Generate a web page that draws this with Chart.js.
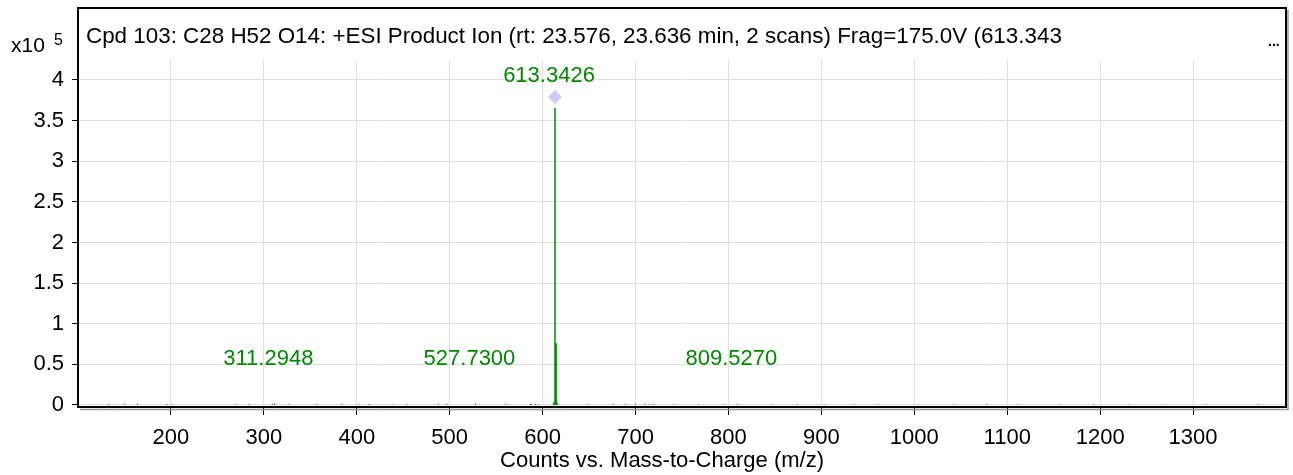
<!DOCTYPE html>
<html>
<head>
<meta charset="utf-8">
<script src="https://cdn.jsdelivr.net/npm/chart.js@4/dist/chart.umd.min.js"></script>
<style>
  body { margin: 0; background: #fff; }
  #wrap { width: 1293px; height: 475px; }
</style>
</head>
<body>
<div id="wrap"><canvas id="spec"></canvas></div>
<script>
// spectrum values, intensities in units of 10^5 counts
const peakMz = [613.3426, 614.55];
const peakHeight = [3.655, 0.76];

const noiseMz = [133, 150, 164, 196, 201, 270, 284, 309, 311.2948, 327, 357, 384, 402, 413, 438, 454, 488, 497,
                 527.73, 560, 563, 587, 588, 592, 596, 611.5, 612.4, 615.4, 616.2, 649, 676, 689, 700, 710, 715, 719,
                 741, 768, 795, 809.527, 846, 874, 903, 935, 961, 1004, 1043, 1078, 1112, 1156, 1193, 1231, 1270, 1314, 1370];
const noiseHeight = [0.012, 0.01, 0.015, 0.012, 0.008, 0.01, 0.012, 0.014, 0.02, 0.01, 0.012, 0.014, 0.01, 0.012, 0.01, 0.012, 0.01, 0.014,
                     0.018, 0.012, 0.01, 0.014, 0.012, 0.016, 0.01, 0.03, 0.04, 0.035, 0.02, 0.01, 0.014, 0.012, 0.012, 0.014, 0.01, 0.012,
                     0.008, 0.01, 0.008, 0.012, 0.008, 0.01, 0.008, 0.008, 0.01, 0.008, 0.008, 0.01, 0.008, 0.008, 0.01, 0.008, 0.008, 0.008, 0.012];

const precursorMz = [613.3426];
const precursorLevel = [3.79];

const labelMz = [311.2948, 527.7300, 613.3426, 809.5270];
const labelText = ['311.2948', '527.7300', '613.3426', '809.5270'];
const labelLevel = [0.566, 0.566, 4.05, 0.566];

const xTicks = [200, 300, 400, 500, 600, 700, 800, 900, 1000, 1100, 1200, 1300];
const yTicks = [0, 0.5, 1, 1.5, 2, 2.5, 3, 3.5, 4];

const titleText = 'Cpd 103: C28 H52 O14: +ESI Product Ion (rt: 23.576, 23.636 min, 2 scans) Frag=175.0V (613.343';
const xTitle = 'Counts vs. Mass-to-Charge (m/z)';

const FONT = '"Liberation Sans", Arial, sans-serif';
const GREEN = '#008a00';

function sticks(mz, h) {
    const out = [];
    for (let i = 0; i < mz.length; i++) {
        out.push({x: mz[i], y: 0}, {x: mz[i], y: h[i]}, {x: mz[i], y: null});
    }
    return out;
}

const decor = {
    id: 'decor',
    afterDraw(chart) {
        const ctx = chart.ctx;
        const xs = chart.scales.x, ys = chart.scales.y;
        const ca = chart.chartArea;
        ctx.save();
        // frame with a small shadow
        ctx.strokeStyle = '#999';
        ctx.lineWidth = 1.5;
        ctx.beginPath();
        ctx.moveTo(80, ca.bottom + 2.5); ctx.lineTo(ca.right + 2, ca.bottom + 2.5);
        ctx.lineTo(ca.right + 2, 10);
        ctx.stroke();
        ctx.strokeStyle = '#000';
        ctx.lineWidth = 2;
        ctx.strokeRect(ca.left, 8, ca.right - ca.left, ca.bottom - 8);

        ctx.fillStyle = '#000';
        ctx.textBaseline = 'middle';
        ctx.textAlign = 'left';
        ctx.font = '22.4px ' + FONT;
        ctx.fillText(titleText, 86, 37);
        ctx.font = 'bold 14px ' + FONT;
        ctx.fillText('...', 1268, 42);

        ctx.font = '21px ' + FONT;
        ctx.fillText('x10', 11, 46);
        ctx.font = '16px ' + FONT;
        ctx.fillText('5', 54, 41);

        ctx.textAlign = 'center';
        ctx.font = '22px ' + FONT;
        ctx.fillText(xTitle, 662, 461);

        ctx.fillStyle = GREEN;
        for (let i = 0; i < labelMz.length; i++) {
            ctx.fillText(labelText[i], xs.getPixelForValue(labelMz[i]) - 6, ys.getPixelForValue(labelLevel[i]));
        }
        ctx.restore();
    }
};

new Chart(document.getElementById('spec'), {
    type: 'scatter',
    data: {
        datasets: [{
            data: sticks(noiseMz, noiseHeight),
            showLine: true,
            spanGaps: false,
            borderColor: GREEN,
            borderWidth: 1,
            pointRadius: 0
        }, {
            data: sticks(peakMz, peakHeight),
            showLine: true,
            spanGaps: false,
            borderColor: GREEN,
            borderWidth: 1.5,
            pointRadius: 0
        }, {
            data: precursorMz.map((m, i) => ({x: m, y: precursorLevel[i]})),
            pointStyle: 'rectRot',
            pointRadius: 7,
            backgroundColor: '#ccccff',
            borderWidth: 0
        }]
    },
    options: {
        responsive: true,
        maintainAspectRatio: false,
        animation: false,
        layout: { padding: { top: 60, right: 2 } },
        plugins: { legend: { display: false }, tooltip: { enabled: false } },
        scales: {
            x: {
                type: 'linear',
                min: 100,
                max: 1400,
                afterFit: s => { s.height = 68; },
                afterBuildTicks: s => { s.ticks = xTicks.map(v => ({value: v})); },
                grid: { color: '#e0e0e0', tickColor: '#000', tickLength: 8 },
                border: { color: '#000', width: 2 },
                ticks: {
                    color: '#000',
                    padding: 10,
                    maxRotation: 0,
                    autoSkip: false,
                    font: { family: FONT, size: 22 },
                    callback: v => String(v)
                }
            },
            y: {
                min: -0.025,
                max: 4.246,
                afterFit: s => { s.width = 78; },
                afterBuildTicks: s => { s.ticks = yTicks.map(v => ({value: v})); },
                grid: { color: '#e0e0e0', tickColor: '#000', tickLength: 6 },
                border: { color: '#000', width: 2 },
                ticks: {
                    color: '#000',
                    padding: 8,
                    autoSkip: false,
                    font: { family: FONT, size: 22 },
                    callback: v => String(v)
                }
            }
        }
    },
    plugins: [decor]
});
</script>
</body>
</html>
